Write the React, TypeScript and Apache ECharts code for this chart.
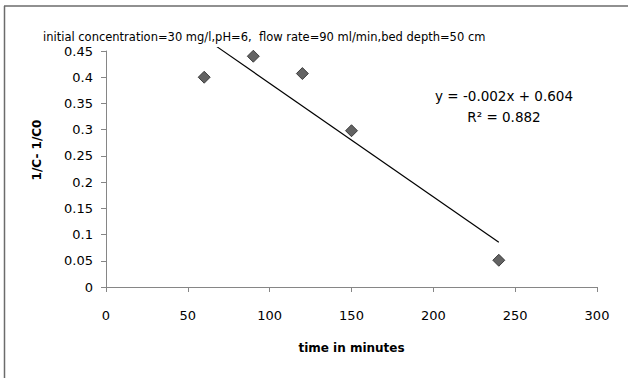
import React, { useEffect, useRef } from "react";
import * as echarts from "echarts";

const timeMinutes = [60, 90, 120, 150, 240];
const invConc = [0.4, 0.44, 0.407, 0.298, 0.051];
const xTicks = [0, 50, 100, 150, 200, 250, 300];
const yTicks = [0, 0.05, 0.1, 0.15, 0.2, 0.25, 0.3, 0.35, 0.4, 0.45];
const titleText = "initial concentration=30 mg/l,pH=6,  flow rate=90 ml/min,bed depth=50 cm";
const equationText = "y = -0.002x + 0.604";
const r2Text = "R² = 0.882";
const xName = "time in minutes";
const yName = "1/C- 1/C0";

const FONT = "'DejaVu Sans', 'Liberation Sans', sans-serif";

function regression(xs: number[], ys: number[]) {
  const n = xs.length;
  const mx = xs.reduce((a, b) => a + b, 0) / n;
  const my = ys.reduce((a, b) => a + b, 0) / n;
  let sxy = 0;
  let sxx = 0;
  for (let i = 0; i < n; i++) {
    sxy += (xs[i] - mx) * (ys[i] - my);
    sxx += (xs[i] - mx) * (xs[i] - mx);
  }
  const slope = sxy / sxx;
  return { slope, intercept: my - slope * mx };
}

export default function App() {
  const ref = useRef<HTMLDivElement>(null);
  useEffect(() => {
    if (!ref.current) return;
    const chart = echarts.init(ref.current, undefined, { renderer: "svg" });
    const { slope, intercept } = regression(timeMinutes, invConc);
    const xMin = Math.min(...timeMinutes);
    const xMax = Math.max(...timeMinutes);
    const trend = [
      [xMin, intercept + slope * xMin],
      [xMax, intercept + slope * xMax],
    ];
    const axisColor = "#868686";
    chart.setOption({
      animation: false,
      backgroundColor: "#ffffff",
      textStyle: { fontFamily: FONT },
      title: {
        text: titleText,
        left: 40,
        top: 29,
        padding: [2, 3, 4, 3],
        backgroundColor: "#ffffff",
        textStyle: { fontSize: 11.5, fontWeight: "normal", color: "#000", fontFamily: FONT },
      },
      grid: { left: 106, right: 31, top: 51, bottom: 91 },
      xAxis: {
        type: "value",
        min: xTicks[0],
        max: xTicks[xTicks.length - 1],
        interval: xTicks[1] - xTicks[0],
        name: xName,
        nameLocation: "middle",
        nameGap: 55,
        nameTextStyle: { fontSize: 12, fontWeight: "bold", color: "#000", fontFamily: FONT },
        axisLine: { show: true, lineStyle: { color: axisColor, width: 1 } },
        axisTick: { show: true, length: 5, lineStyle: { color: axisColor } },
        axisLabel: { fontSize: 13, color: "#000", margin: 22, fontFamily: FONT },
        splitLine: { show: false },
      },
      yAxis: {
        type: "value",
        min: yTicks[0],
        max: yTicks[yTicks.length - 1],
        interval: 0.05,
        z: 10,
        axisLine: { show: true, lineStyle: { color: axisColor, width: 1 } },
        axisTick: { show: true, length: 5, lineStyle: { color: axisColor } },
        axisLabel: {
          fontSize: 13,
          color: "#000",
          margin: 13,
          fontFamily: FONT,
          formatter: (v: number) => String(Number(v.toFixed(2))),
        },
        splitLine: { show: false },
      },
      series: [
        {
          type: "line",
          data: trend,
          symbol: "none",
          clip: false,
          lineStyle: { color: "#000", width: 1.2 },
          z: 2,
        },
        {
          type: "scatter",
          data: timeMinutes.map((x, i) => [x, invConc[i]]),
          symbol: "diamond",
          symbolSize: 12,
          itemStyle: { color: "#3c3c3c", borderColor: "#262626", borderWidth: 1 },
          z: 3,
        },
      ],
      graphic: [
        {
          type: "line",
          shape: { x1: 4.5, y1: 6, x2: 4.5, y2: 378 },
          style: { stroke: "#6b6b6b", lineWidth: 1.5 },
        },
        {
          type: "line",
          shape: { x1: 4, y1: 6, x2: 628, y2: 6 },
          style: { stroke: "#6b6b6b", lineWidth: 1.5 },
        },
        {
          type: "text",
          x: 37,
          y: 150,
          rotation: Math.PI / 2,
          style: {
            text: yName,
            fontSize: 12,
            fontWeight: "bold",
            fontFamily: FONT,
            fill: "#000",
            align: "center",
            verticalAlign: "middle",
          },
        },
        {
          type: "text",
          x: 504,
          y: 96,
          style: {
            text: equationText,
            fontSize: 13.5,
            fontFamily: FONT,
            fill: "#000",
            align: "center",
            verticalAlign: "middle",
          },
        },
        {
          type: "text",
          x: 504,
          y: 117,
          style: {
            text: r2Text,
            fontSize: 13.5,
            fontFamily: FONT,
            fill: "#000",
            align: "center",
            verticalAlign: "middle",
          },
        },
      ],
    });
    return () => chart.dispose();
  }, []);
  return (
    <div
      ref={ref}
      style={{ position: "fixed", left: 0, top: 0, width: 628, height: 378 }}
    />
  );
}
